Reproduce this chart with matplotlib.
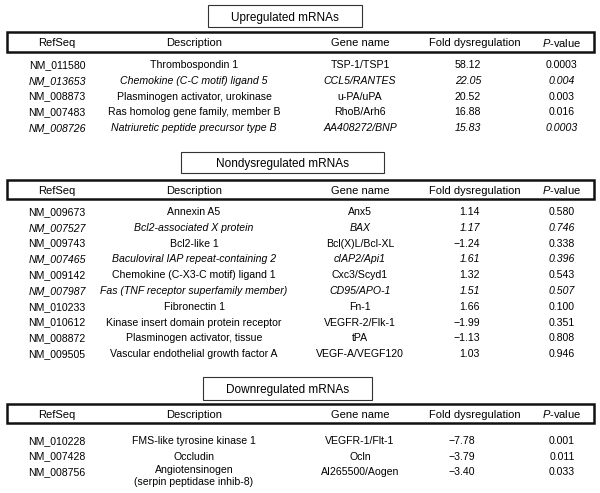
import matplotlib.pyplot as plt
from matplotlib.patches import Rectangle

plt.rcParams['font.family'] = ['Liberation Sans', 'DejaVu Sans']
plt.rcParams['mathtext.fontset'] = 'custom'
plt.rcParams['mathtext.it'] = 'Liberation Sans:italic'
plt.rcParams['mathtext.rm'] = 'Liberation Sans'

headers = ['RefSeq', 'Description', 'Gene name', 'Fold dysregulation', r'$\mathit{P}$-value']

up_title = 'Upregulated mRNAs'
up_refseq = ['NM_011580', 'NM_013653', 'NM_008873', 'NM_007483', 'NM_008726']
up_desc = ['Thrombospondin 1', 'Chemokine (C-C motif) ligand 5',
           'Plasminogen activator, urokinase', 'Ras homolog gene family, member B',
           'Natriuretic peptide precursor type B']
up_gene = ['TSP-1/TSP1', 'CCL5/RANTES', 'u-PA/uPA', 'RhoB/Arh6', 'AA408272/BNP']
up_fold = ['58.12', '22.05', '20.52', '16.88', '15.83']
up_p = ['0.0003', '0.004', '0.003', '0.016', '0.0003']
up_italic = [False, True, False, False, True]

non_title = 'Nondysregulated mRNAs'
non_refseq = ['NM_009673', 'NM_007527', 'NM_009743', 'NM_007465', 'NM_009142',
              'NM_007987', 'NM_010233', 'NM_010612', 'NM_008872', 'NM_009505']
non_desc = ['Annexin A5', 'Bcl2-associated X protein', 'Bcl2-like 1',
            'Baculoviral IAP repeat-containing 2', 'Chemokine (C-X3-C motif) ligand 1',
            'Fas (TNF receptor superfamily member)', 'Fibronectin 1',
            'Kinase insert domain protein receptor', 'Plasminogen activator, tissue',
            'Vascular endothelial growth factor A']
non_gene = ['Anx5', 'BAX', 'Bcl(X)L/Bcl-XL', 'cIAP2/Api1', 'Cxc3/Scyd1',
            'CD95/APO-1', 'Fn-1', 'VEGFR-2/Flk-1', 'tPA', 'VEGF-A/VEGF120']
non_fold = ['1.14', '1.17', '\u22121.24', '1.61', '1.32', '1.51', '1.66',
            '\u22121.99', '\u22121.13', '1.03']
non_p = ['0.580', '0.746', '0.338', '0.396', '0.543', '0.507', '0.100',
         '0.351', '0.808', '0.946']
non_italic = [False, True, False, True, False, True, False, False, False, False]

down_title = 'Downregulated mRNAs'
down_refseq = ['NM_010228', 'NM_007428', 'NM_008756']
down_desc = ['FMS-like tyrosine kinase 1', 'Occludin',
             'Angiotensinogen\n(serpin peptidase inhib-8)']
down_gene = ['VEGFR-1/Flt-1', 'Ocln', 'AI265500/Aogen']
down_fold = ['\u22127.78', '\u22123.79', '\u22123.40']
down_p = ['0.001', '0.011', '0.033']
down_italic = [False, False, False]

col_x = [57, 194, 360, 475, 562]

fig = plt.figure(figsize=(6.0, 4.93), dpi=100)
ax = fig.add_axes([0, 0, 1, 1])
ax.set_xlim(0, 600)
ax.set_ylim(493, 0)
ax.axis('off')


def draw_section(title, tbox, hbox, rows_y, fold_x, refseq, desc, gene, fold, pval, italic):
    # title box
    x0, x1, y0, y1 = tbox
    ax.add_patch(Rectangle((x0, y0), x1 - x0, y1 - y0, fill=False, lw=0.8, ec='#333333'))
    ax.text((x0 + x1) / 2, (y0 + y1) / 2, title, ha='center', va='center_baseline', fontsize=8.5)
    # header box
    y0, y1 = hbox
    ax.add_patch(Rectangle((7, y0), 587, y1 - y0, fill=False, lw=1.8, ec='#111111'))
    yc = (y0 + y1) / 2
    for x, h in zip(col_x, headers):
        ax.text(x, yc, h, ha='center', va='center_baseline', fontsize=8)
    for i, y in enumerate(rows_y):
        st = 'italic' if italic[i] else 'normal'
        if '\n' in desc[i]:
            ax.text(col_x[1], y - 6, desc[i], ha='center', va='top', fontsize=7.6,
                    style=st, linespacing=1.25)
        else:
            ax.text(col_x[1], y, desc[i], ha='center', va='center_baseline',
                    fontsize=7.6, style=st)
        ax.text(col_x[0], y, refseq[i], ha='center', va='center_baseline', fontsize=7.6, style=st)
        ax.text(col_x[2], y, gene[i], ha='center', va='center_baseline', fontsize=7.6, style=st)
        ax.text(fold_x, y, fold[i], ha='right', va='center_baseline', fontsize=7.6, style=st)
        ax.text(col_x[4], y, pval[i], ha='center', va='center_baseline', fontsize=7.6, style=st)


up_y = [64 + 15.8 * i for i in range(len(up_refseq))]
non_y = [211 + 15.8 * i for i in range(len(non_refseq))]
down_y = [440 + 15.5 * i for i in range(len(down_refseq))]

draw_section(up_title, (208, 362, 5, 27), (32, 52), up_y, 481,
             up_refseq, up_desc, up_gene, up_fold, up_p, up_italic)
draw_section(non_title, (181, 384, 152, 173), (180, 199), non_y, 480,
             non_refseq, non_desc, non_gene, non_fold, non_p, non_italic)
draw_section(down_title, (203, 372, 377, 400), (404, 423), down_y, 475,
             down_refseq, down_desc, down_gene, down_fold, down_p, down_italic)

fig.savefig('out.png', dpi=100)
